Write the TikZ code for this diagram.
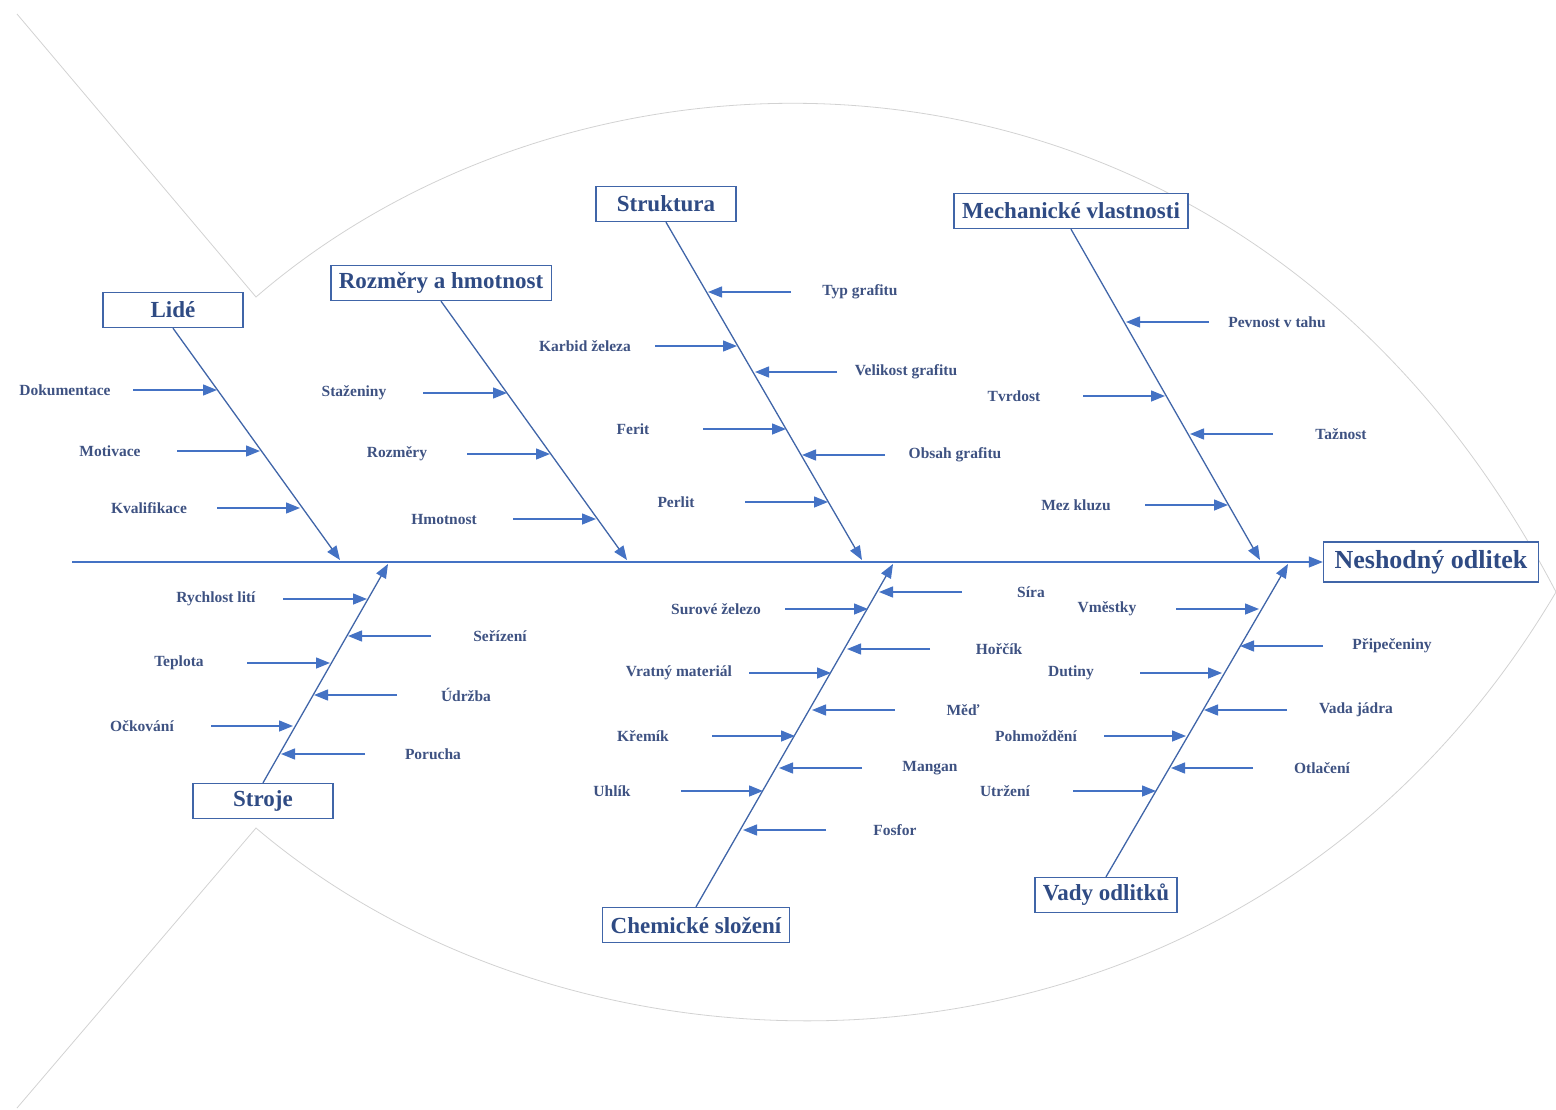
\documentclass[tikz,border=0pt]{standalone}
\usepackage{fontspec}
\setmainfont{Liberation Serif}
\usetikzlibrary{arrows.meta}

\definecolor{bonecol}{HTML}{4065A8}
\definecolor{arrcol}{HTML}{4472C4}
\definecolor{txtcol}{HTML}{3E5282}
\definecolor{headcol}{HTML}{2F4B84}
\definecolor{fishcol}{HTML}{D2D2D2}

\tikzset{
  head/.style={draw=bonecol, line width=1.4pt, text=headcol, fill=white,
    font=\bfseries\fontsize{23}{25}\selectfont,
    minimum width=140pt, minimum height=35pt, inner xsep=8pt, inner ysep=2pt},
  cause/.style={text=txtcol, font=\bfseries\fontsize{15.5}{17}\selectfont},
  bone/.style={draw=bonecol, line width=1.3pt,
    -{Triangle[length=14pt,width=11pt,color=arrcol]}},
  twig/.style={draw=arrcol, line width=1.4pt,
    -{Triangle[length=14pt,width=11pt]}},
  fish/.style={draw=fishcol, line width=0.8pt}
}

\begin{document}
\begin{tikzpicture}[x=1pt, y=-1pt]
  \useasboundingbox (0,0) rectangle (1556,1109);

  % outline of the fish
  \draw[fish] (17,14) -- (256,297) .. controls (600,0) and (1250,5) .. (1556,592);
  \draw[fish] (17,1108) -- (256,828) .. controls (600,1120) and (1250,1110) .. (1556,592);

  % head and spine
  \node[head, font=\bfseries\fontsize{26}{28}\selectfont, minimum width=215pt,
    minimum height=40pt, inner xsep=6pt] (odlitek) at (1431,562) {Neshodný odlitek};
  \coordinate (tail) at (72,562);
  \draw[twig, line width=1.1pt] (tail) -- (odlitek.west);

  % main categories
  \node[head] (lide) at (173,310) {Lidé};
  \node[head] (rozmery) at (441,283) {Rozměry a hmotnost};
  \node[head] (struktura) at (666,204) {Struktura};
  \node[head] (mechanika) at (1071,211) {Mechanické vlastnosti};
  \node[head] (stroje) at (263,801) {Stroje};
  \node[head] (chemie) at (696,925) {Chemické složení};
  \node[head] (vady) at (1106,895) {Vady odlitků};

  \coordinate (lide-end) at (340,560);
  \coordinate (rozmery-end) at (627,560);
  \coordinate (struktura-end) at (862,560);
  \coordinate (mechanika-end) at (1260,560);
  \coordinate (stroje-end) at (388,564);
  \coordinate (chemie-end) at (893,564);
  \coordinate (vady-end) at (1288,564);

  \draw[bone] (lide.south) -- (lide-end);
  \draw[bone] (rozmery.south) -- (rozmery-end);
  \draw[bone] (struktura.south) -- (struktura-end);
  \draw[bone] (mechanika.south) -- (mechanika-end);
  \draw[bone] (stroje.north) -- (stroje-end);
  \draw[bone] (chemie.north) -- (chemie-end);
  \draw[bone] (vady.north) -- (vady-end);

  % causes: name/text/label x/arrow start/arrow end/y
  \foreach \name/\txt/\tx/\xa/\xb/\y in {
      dok/Dokumentace/65/133/217/390, mot/Motivace/110/177/260/451,
      kval/Kvalifikace/149/217/300/508,
      staz/Staženiny/354/423/507/393, rozm/Rozměry/397/467/550/454,
      hmot/Hmotnost/444/513/596/519,
      typ/Typ grafitu/860/791/708/292, karb/Karbid železa/585/655/737/346,
      vel/Velikost grafitu/906/837/755/372, fer/Ferit/633/703/786/429,
      obs/Obsah grafitu/955/885/802/455, per/Perlit/676/745/828/502,
      pev/Pevnost v tahu/1277/1209/1126/322, tvr/Tvrdost/1014/1083/1165/396,
      taz/Tažnost/1341/1273/1190/434, mez/Mez kluzu/1076/1145/1228/505,
      rych/Rychlost lití/216/283/367/599, ser/Seřízení/500/431/348/636,
      tep/Teplota/179/247/330/663, udr/Údržba/466/397/314/695,
      ock/Očkování/142/211/293/726, por/Porucha/433/365/281/754,
      sir/Síra/1031/962/879/592, sur/Surové železo/716/785/868/609,
      hor/Hořčík/999/930/847/649, vrat/Vratný materiál/679/749/831/673,
      med/Měď/963/895/812/710, krem/Křemík/643/712/795/736,
      mang/Mangan/930/862/779/768, uhl/Uhlík/612/681/763/791,
      fos/Fosfor/895/826/743/830,
      vme/Vměstky/1107/1176/1259/609, pri/Připečeniny/1392/1323/1240/646,
      dut/Dutiny/1071/1140/1222/673, vad/Vada jádra/1356/1287/1204/710,
      pohm/Pohmoždění/1036/1104/1186/736, otl/Otlačení/1322/1253/1171/768,
      utr/Utržení/1005/1073/1156/791}
  {
    \node[cause] (\name) at (\tx,\y) {\txt};
    \coordinate (\name-a) at (\xa,\y);
    \coordinate (\name-b) at (\xb,\y);
    \draw[twig] (\name-a) -- (\name-b);
  }
\end{tikzpicture}
\end{document}
